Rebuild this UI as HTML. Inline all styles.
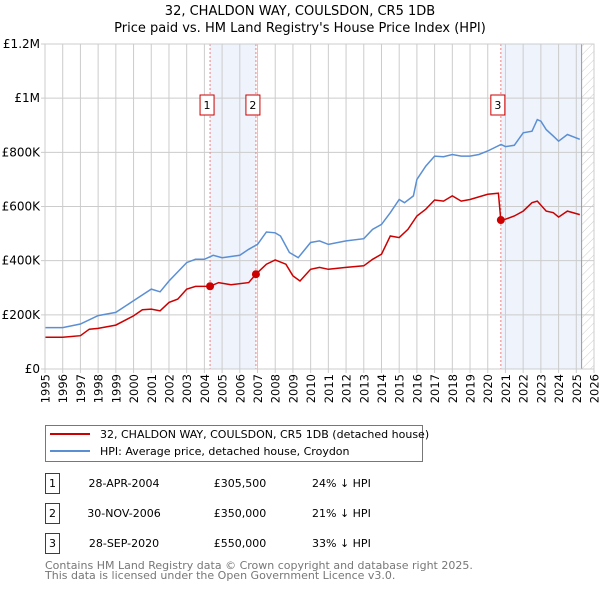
<!DOCTYPE html>
<html><head><meta charset="utf-8"><style>
body{margin:0;background:#fff;font-family:"DejaVu Sans","Liberation Sans",sans-serif;}
svg text{font-family:"DejaVu Sans","Liberation Sans",sans-serif;}
</style></head><body>
<svg id="chart" width="600" height="590" viewBox="0 0 600 590" xmlns="http://www.w3.org/2000/svg">
<defs><pattern id="hatch" width="6" height="6" patternUnits="userSpaceOnUse" patternTransform="rotate(45)"><line x1="0" y1="0" x2="0" y2="6" stroke="#ccc" stroke-width="1"/></pattern></defs>
<text x="300" y="15" text-anchor="middle" font-size="13">32, CHALDON WAY, COULSDON, CR5 1DB</text>
<text x="300" y="32" text-anchor="middle" font-size="13">Price paid vs. HM Land Registry's House Price Index (HPI)</text>
<g id="plot"></g>
<g>
<rect x="45.5" y="425.5" width="377" height="36" fill="#fff" stroke="#777"/>
<line x1="50" y1="434" x2="90" y2="434" stroke="#cc0000" stroke-width="2"/>
<text x="100" y="438" font-size="11">32, CHALDON WAY, COULSDON, CR5 1DB (detached house)</text>
<line x1="50" y1="451" x2="90" y2="451" stroke="#5b8fd4" stroke-width="2"/>
<text x="100" y="455" font-size="11">HPI: Average price, detached house, Croydon</text>
</g>
<g id="table" font-size="11"></g>
<text x="45" y="569" font-size="11" fill="#777">Contains HM Land Registry data © Crown copyright and database right 2025.</text>
<text x="45" y="579" font-size="11" fill="#777">This data is licensed under the Open Government Licence v3.0.</text>
</svg>
<script>
const hpiYears=[1995,1996,1997,1998,1999,2000,2001,2001.5,2002,2003,2003.5,2004,2004.5,2005,2006,2006.5,2007,2007.5,2008,2008.3,2008.8,2009.3,2010,2010.5,2011,2012,2013,2013.5,2014,2014.5,2015,2015.3,2015.8,2016,2016.5,2017,2017.5,2018,2018.5,2019,2019.5,2020,2020.75,2021,2021.5,2022,2022.5,2022.8,2023,2023.3,2023.7,2024,2024.5,2025.2];
const hpiValues=[153,153,166,197,209,252,295,285,325,393,405,405,420,411,420,442,460,506,503,491,430,411,467,473,460,473,481,516,534,577,626,614,639,700,749,786,784,792,786,786,792,805,829,821,826,872,878,921,915,884,860,841,866,848];
const ppYears=[1995,1996,1997,1997.5,1998,1999,2000,2000.5,2001,2001.5,2002,2002.5,2003,2003.5,2004.32,2004.8,2005.5,2006.5,2006.91,2007.5,2008,2008.6,2009,2009.4,2010,2010.5,2011,2012,2013,2013.5,2014,2014.5,2015,2015.5,2016,2016.5,2017,2017.5,2018,2018.5,2019,2020,2020.6,2020.74,2021,2021.5,2022,2022.5,2022.8,2023.3,2023.7,2024,2024.5,2025.2];
const ppValues=[117,117,123,147,150,162,196,219,221,215,246,258,295,305,305.5,319,311,319,350,387,403,387,344,325,368,375,368,375,381,405,424,491,485,516,565,590,624,620,639,620,626,645,649,550,553,565,583,614,620,583,577,561,583,570];
const saleYears=[2004.32,2006.91,2020.74];
const saleValues=[305.5,350,550];
const saleLabels=["1","2","3"];
const saleDates=["28-APR-2004","30-NOV-2006","28-SEP-2020"];
const salePrices=["£305,500","£350,000","£550,000"];
const saleDiffs=["24% ↓ HPI","21% ↓ HPI","33% ↓ HPI"];
const yTicks=[0,200,400,600,800,1000,1200];
const yTickLabels=["£0","£200K","£400K","£600K","£800K","£1M","£1.2M"];
const xTicks=[1995,1996,1997,1998,1999,2000,2001,2002,2003,2004,2005,2006,2007,2008,2009,2010,2011,2012,2013,2014,2015,2016,2017,2018,2019,2020,2021,2022,2023,2024,2025,2026];
const NS="http://www.w3.org/2000/svg";
const X0=45,X1=594,Y0=369,Y1=44;
const xs=y=>X0+(y-1995)/(2026-1995)*(X1-X0);
const ys=v=>Y0-v/1200*(Y0-Y1);
const plot=document.getElementById('plot');
function mk(tag,attrs,parent){const e=document.createElementNS(NS,tag);for(const k in attrs)e.setAttribute(k,attrs[k]);(parent||plot).appendChild(e);return e;}
let s1=mk('rect',{x:xs(2004.32),y:Y1,width:xs(2006.91)-xs(2004.32),height:Y0-Y1,fill:'#eef3fc'});


let s2=mk('rect',{x:xs(2020.74),y:Y1,width:xs(2025.3)-xs(2020.74),height:Y0-Y1,fill:'#eef3fc'});


let hz=mk('rect',{x:xs(2025.3),y:Y1,width:X1-xs(2025.3),height:Y0-Y1,fill:'url(#hatch)'});


xTicks.forEach(t=>{
 let g=mk('line',{x1:xs(t),x2:xs(t),y1:Y1,y2:Y0+4,stroke:'#ccc','stroke-width':1});
 
 
 let tx=mk('text',{x:0,y:0,'text-anchor':'end','font-size':'11.5',transform:'translate('+(xs(t)+4.5)+','+(Y0+5)+') rotate(-90)'});
 tx.textContent=t;
 
 
});
yTicks.forEach((t,i)=>{
 let g=mk('line',{x1:X0-4,x2:X1,y1:ys(t),y2:ys(t),stroke:'#ccc','stroke-width':1});
 
 
 let tx=mk('text',{x:X0-5,y:ys(t)+4,'text-anchor':'end','font-size':'12'});
 tx.textContent=yTickLabels[i];
 
 
});
let ed=mk('line',{x1:xs(2025.3),x2:xs(2025.3),y1:Y1,y2:Y0,stroke:'#999','stroke-width':1});


saleYears.forEach((y,i)=>{
 let l=mk('line',{x1:xs(y),x2:xs(y),y1:Y1,y2:Y0,stroke:'#f08080','stroke-dasharray':'2,2','stroke-width':1});
 
 
});
function path(xa,va,color,name){
 let d=xa.map((y,i)=>(i?'L':'M')+xs(y).toFixed(1)+','+ys(va[i]).toFixed(1)).join('');
 let p=mk('path',{d:d,fill:'none',stroke:color,'stroke-width':1.5});
 
 
}
path(hpiYears,hpiValues,'#5b8fd4','hpi-line');
path(ppYears,ppValues,'#cc0000','price-paid-line');
saleYears.forEach((y,i)=>{
 let c=mk('circle',{cx:xs(y),cy:ys(saleValues[i]),r:4,fill:'#cc0000'});
 
 
 let bx=xs(y)-3-7;
 let r=mk('rect',{x:bx,y:95,width:14,height:20,fill:'#fff',stroke:'#cc0000','stroke-width':1});
 
 
 let t=mk('text',{x:bx+7,y:109,'text-anchor':'middle','font-size':'11'});
 t.textContent=saleLabels[i];
 
 
});
let ax=mk('rect',{x:X0,y:Y1,width:X1-X0,height:Y0-Y1,fill:'none',stroke:'#ccc'});


const tb=document.getElementById('table');
saleLabels.forEach((lab,i)=>{
 const cy=483+i*30;
 let r=mk('rect',{x:45.5,y:cy-9.5,width:14,height:20,fill:'#fff',stroke:'#cc0000'},tb);
 
 
 let t=mk('text',{x:52.5,y:cy+4,'text-anchor':'middle'},tb);t.textContent=lab;
 
 
 let d=mk('text',{x:124,y:cy+4,'text-anchor':'middle'},tb);d.textContent=saleDates[i];
 
 
 let p=mk('text',{x:240,y:cy+4,'text-anchor':'middle'},tb);p.textContent=salePrices[i];
 
 
 let h=mk('text',{x:312,y:cy+4},tb);h.textContent=saleDiffs[i];
 
 
});
</script>
</body></html>
